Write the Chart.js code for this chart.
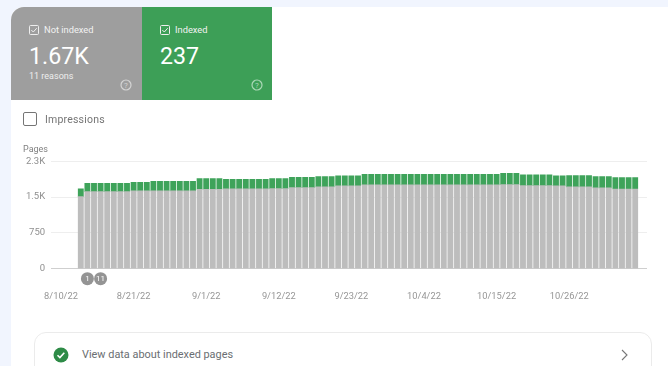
<!DOCTYPE html>
<html><head><meta charset="utf-8">
<script src="https://cdn.jsdelivr.net/npm/chart.js@4"></script>
<style>
html,body{margin:0;padding:0;width:668px;height:366px;overflow:hidden;background:#f1f5fe;font-family:Roboto,sans-serif}
#wrap{position:absolute;left:0;top:0;width:668px;height:366px;overflow:hidden;filter:blur(.45px)}
#panel{position:absolute;left:11px;top:7px;width:657px;height:359px;background:#fff;border-top-left-radius:12px}
.card{position:absolute;top:7px;height:92.5px;color:#fff}
#c1{left:11px;width:131px;background:#9e9e9e;border-top-left-radius:13px}
#c2{left:142px;width:130px;background:#3d9f57}
.card div,.card svg{position:absolute}
.lab{top:17px;font-size:9.3px;line-height:12px;color:#f2f2f2}
.big{left:18px;top:34px;font-size:23.2px;line-height:30px}
.sub{left:18px;top:63px;font-size:9px;line-height:12px;color:#eee}
.abs{position:absolute}
canvas{position:absolute;left:0;top:0}
</style></head><body>
<div id="wrap">
<div id="panel"></div>
<div class="card" id="c1">
<svg style="left:18px;top:18px" width="10" height="10" viewBox="0 0 10 10"><rect x=".5" y=".5" width="9" height="9" rx="1" fill="none" stroke="#eee"/><path d="M2.3 5l2 2 3.4-3.8" fill="none" stroke="#eee"/></svg>
<div class="lab" style="left:33px">Not indexed</div>
<div class="big">1.67K</div>
<div class="sub">11 reasons</div>
<svg style="left:109px;top:72px" width="12" height="12" viewBox="0 0 12 12"><circle cx="6" cy="6" r="5" fill="none" stroke="#d4d4d4" stroke-width="1.2"/><text x="6" y="8.6" font-size="8" text-anchor="middle" fill="#d4d4d4" font-family="Roboto">?</text></svg>
</div>
<div class="card" id="c2">
<svg style="left:18px;top:18px" width="10" height="10" viewBox="0 0 10 10"><rect x=".5" y=".5" width="9" height="9" rx="1" fill="none" stroke="#eee"/><path d="M2.3 5l2 2 3.4-3.8" fill="none" stroke="#eee"/></svg>
<div class="lab" style="left:33px">Indexed</div>
<div class="big">237</div>
<svg style="left:109px;top:72px" width="12" height="12" viewBox="0 0 12 12"><circle cx="6" cy="6" r="5" fill="none" stroke="#abd8b7" stroke-width="1.2"/><text x="6" y="8.6" font-size="8" text-anchor="middle" fill="#abd8b7" font-family="Roboto">?</text></svg>
</div>
<div class="abs" style="left:23px;top:112px;width:12px;height:12px;border:1.5px solid #757575;border-radius:2px"></div>
<div class="abs" style="left:45px;top:112.5px;font-size:10.5px;line-height:14px;color:#757575;letter-spacing:.2px">Impressions</div>
<div class="abs" style="left:23px;top:143px;font-size:9px;line-height:12px;color:#808080">Pages</div>
<canvas id="chart" width="668" height="366"></canvas>
<div class="abs" style="left:34px;top:332px;width:616px;height:60px;border:1px solid #ebebeb;border-radius:12px;background:#fff"></div>
<svg class="abs" style="left:53px;top:347px" width="16" height="16" viewBox="0 0 16 16"><circle cx="8" cy="8" r="7.5" fill="#2e8b47"/><path d="M4.5 8.2l2.4 2.4 4.4-4.8" fill="none" stroke="#fff" stroke-width="1.6"/></svg>
<div class="abs" style="left:82px;top:348px;font-size:10.9px;line-height:14px;color:#6a6e72">View data about indexed pages</div>
<svg class="abs" style="left:620px;top:349px" width="9" height="12" viewBox="0 0 9 12"><path d="M2 1l5 5-5 5" fill="none" stroke="#777" stroke-width="1.1"/></svg>
</div>
<script>
const categories = [
'8/13/22','8/14/22','8/15/22','8/16/22','8/17/22','8/18/22','8/19/22','8/20/22','8/21/22','8/22/22','8/23/22','8/24/22','8/25/22','8/26/22','8/27/22','8/28/22','8/29/22','8/30/22','8/31/22',
'9/1/22','9/2/22','9/3/22','9/4/22','9/5/22','9/6/22','9/7/22','9/8/22','9/9/22','9/10/22','9/11/22','9/12/22','9/13/22','9/14/22','9/15/22','9/16/22','9/17/22','9/18/22','9/19/22','9/20/22','9/21/22','9/22/22','9/23/22','9/24/22','9/25/22','9/26/22','9/27/22','9/28/22','9/29/22','9/30/22',
'10/1/22','10/2/22','10/3/22','10/4/22','10/5/22','10/6/22','10/7/22','10/8/22','10/9/22','10/10/22','10/11/22','10/12/22','10/13/22','10/14/22','10/15/22','10/16/22','10/17/22','10/18/22','10/19/22','10/20/22','10/21/22','10/22/22','10/23/22','10/24/22','10/25/22','10/26/22','10/27/22','10/28/22','10/29/22','10/30/22','10/31/22',
'11/1/22','11/2/22','11/3/22','11/4/22','11/5/22'];
const notIndexed = [1510,
1615,1615,1615,1615,1615,1615,1615,
1629,1629,1629,
1629,1629,1629,1629,1629,1629,1629,
1664,1664,1664,1664,
1671,1671,1671,1671,1671,1671,1671,
1678,1678,1678,
1699,1699,1699,1699,
1713,1713,1713,
1734,1734,1734,1734,
1755,1755,1755,1755,1755,1755,1755,1755,1755,1755,1755,1755,1755,1755,1755,1755,1755,1755,1755,1755,1755,
1762,1762,1762,
1741,1741,1741,1741,1741,
1734,1734,
1713,1713,1713,1713,
1692,1692,1692,
1670,1670,1670,1670];
const indexed = [161,
175,175,175,175,175,175,175,
182,182,182,
203,203,203,203,203,203,203,
223,223,223,223,
202,202,202,202,202,202,202,
209,209,209,
216,216,216,216,
216,216,216,
209,209,209,209,
223,223,223,223,223,223,223,223,223,223,223,223,223,223,223,223,223,223,223,223,223,
237,237,237,
223,223,223,223,223,
209,209,
237,237,237,237,
237,237,237,
237,237,237,237];
const tickLabels = ['8/10/22','8/21/22','9/1/22','9/12/22','9/23/22','10/4/22','10/15/22','10/26/22'];
const yTicks = [0,750,1500,2250];
const yTickLabels = ['0','750','1.5K','2.3K'];
const annotations = ['1','11'];
const annotationDates = ['8/14/22','8/16/22'];

const leadDays = 3;            // days between the first tick and the first bar
const dayOf = d => categories.indexOf(d) + leadDays;
const xy = arr => arr.map((v,i)=>({x:i+leadDays,y:v}));

const markers = {
  id:'markers',
  afterDraw(c){
    const g=c.ctx,x=c.scales.x;
    g.save();
    annotations.forEach((t,i)=>{
      const px=x.getPixelForValue(dayOf(annotationDates[i]));
      g.beginPath();g.arc(px,278.7,6.5,0,Math.PI*2);g.fillStyle='#949494';g.fill();
      g.fillStyle='#fff';g.font='8px Roboto';g.textAlign='center';g.textBaseline='middle';
      g.fillText(t,px,279);
    });
    g.restore();
  }
};

new Chart(document.getElementById('chart'),{
  type:'bar',
  data:{datasets:[
    {label:'Not indexed',data:xy(notIndexed),backgroundColor:'#bdbdbd',barThickness:5.2,borderWidth:0},
    {label:'Indexed',data:xy(indexed),backgroundColor:'#3ea35a',barThickness:5.2,borderWidth:0}
  ]},
  options:{
    responsive:false,animation:false,
    layout:{padding:{top:161.3,right:21,left:0,bottom:0}},
    plugins:{legend:{display:false},tooltip:{enabled:false}},
    scales:{
      x:{type:'linear',stacked:true,offset:false,min:-1.5,max:88.79,
        afterBuildTicks(s){s.ticks=tickLabels.map((_,i)=>({value:i*11}));},
        afterFit(s){s.height=366-268.7;},
        grid:{display:false,drawTicks:false},border:{display:false},
        ticks:{autoSkip:false,maxRotation:0,padding:22.5,color:'#969696',font:{family:'Roboto',size:9.3},
          callback:(v)=>tickLabels[v/11]}},
      y:{stacked:true,min:0,max:2250,
        afterBuildTicks(s){s.ticks=yTicks.map(v=>({value:v}));},
        afterFit(s){s.width=51.1;},
        grid:{drawTicks:false,color:c=>c.tick&&c.tick.value===0?'#cfcfcf':'#eeeeee',lineWidth:1},border:{display:false},
        ticks:{padding:6,color:'#8f8f8f',font:{family:'Roboto',size:9.5},
          callback:(v)=>yTickLabels[yTicks.indexOf(v)]}}
    }
  },
  plugins:[markers]
});
</script>
</body></html>
